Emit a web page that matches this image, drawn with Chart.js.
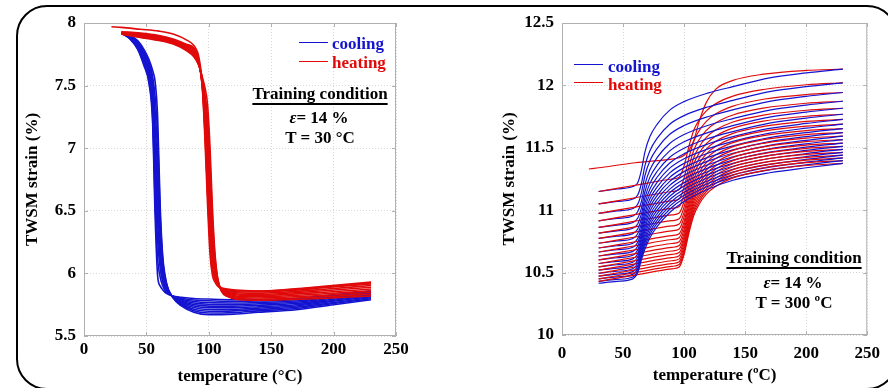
<!DOCTYPE html>
<html>
<head>
<meta charset="utf-8">
<script src="https://cdn.jsdelivr.net/npm/chart.js@4.4.0/dist/chart.umd.min.js"></script>
<style>
  html, body { margin: 0; padding: 0; background: #fff; overflow: hidden; }
  #stage { position: relative; width: 888px; height: 388px; overflow: hidden; }
  #frame { position: absolute; left: 16px; top: 5px; width: 878px; height: 381px; border: 2px solid #000; border-radius: 31px; }
  canvas { position: absolute; top: 0; }
  #left { left: 0; }
  #right { left: 444px; }
  .note { position: absolute; font: bold 17px "Liberation Serif", "Times New Roman", serif; line-height: 20px; white-space: nowrap; color: #000; }
  .mid { width: 200px; text-align: center; }
  .ul { text-decoration: underline; text-decoration-thickness: 2px; text-underline-offset: 4px; }
  .key { position: absolute; width: 29px; height: 0; border-top: 1.4px solid; }
</style>
</head>
<body>
<div id="stage">
  <div id="frame"></div>
  <canvas id="left" width="444" height="388"></canvas>
  <canvas id="right" width="444" height="388"></canvas>

  <div class="key" style="left:299px; top:42px; border-color:#1414d0;"></div>
  <div class="note" style="left:332px; top:34px; color:#1414d0;">cooling</div>
  <div class="key" style="left:299px; top:61px; border-color:#e00a0a;"></div>
  <div class="note" style="left:332px; top:53px; color:#e00a0a;">heating</div>
  <div class="note mid" style="left:220px; top:84px;"><span class="ul">Training condition</span></div>
  <div class="note mid" style="left:219px; top:108px;"><i>ε</i>= 14 %</div>
  <div class="note mid" style="left:220px; top:128px;">T = 30 °C</div>

  <div class="key" style="left:574px; top:64px; border-color:#1414d0;"></div>
  <div class="note" style="left:608px; top:57px; color:#1414d0;">cooling</div>
  <div class="key" style="left:574px; top:82px; border-color:#e00a0a;"></div>
  <div class="note" style="left:608px; top:75px; color:#e00a0a;">heating</div>
  <div class="note mid" style="left:694px; top:248px;"><span class="ul">Training condition</span></div>
  <div class="note mid" style="left:693px; top:273px;"><i>ε</i>= 14 %</div>
  <div class="note mid" style="left:694px; top:293px;">T = 300 ºC</div>
</div>
<script>
// axis ticks
const xTicks = [0, 50, 100, 150, 200, 250];
const leftYTicks = [5.5, 6, 6.5, 7, 7.5, 8];
const rightYTicks = [10, 10.5, 11, 11.5, 12, 12.5];

// left panel (training at 30 C): temperatures of the sampled points
const leftCoolT = [230, 200, 170, 140, 120, 100, 88, 78, 71, 66, 63, 61, 59, 57, 55, 52, 48, 43, 37, 30];
const leftHeatT = [22, 30, 45, 60, 72, 82, 88, 92, 95, 97, 99, 101, 103, 105, 107, 110, 115, 125, 140, 160, 190, 230];

// strain (%) on cooling, one row per cycle
const leftCooling = [
  [5.86, 5.83, 5.80, 5.79, 5.79, 5.795, 5.80, 5.81, 5.82, 5.84, 5.87, 5.90, 5.98, 6.45, 7.20, 7.52, 7.66, 7.79, 7.87, 7.92],
  [5.852, 5.821, 5.79, 5.779, 5.777, 5.781, 5.788, 5.802, 5.819, 5.85, 5.901, 5.972, 6.121, 6.57, 7.247, 7.541, 7.674, 7.798, 7.873, 7.92],
  [5.844, 5.812, 5.78, 5.768, 5.764, 5.767, 5.776, 5.794, 5.818, 5.86, 5.932, 6.044, 6.262, 6.69, 7.293, 7.562, 7.689, 7.806, 7.877, 7.92],
  [5.837, 5.803, 5.77, 5.757, 5.752, 5.753, 5.763, 5.787, 5.817, 5.87, 5.963, 6.117, 6.403, 6.81, 7.34, 7.583, 7.703, 7.813, 7.88, 7.92],
  [5.829, 5.794, 5.76, 5.746, 5.739, 5.739, 5.751, 5.779, 5.816, 5.88, 5.994, 6.189, 6.544, 6.93, 7.387, 7.604, 7.718, 7.821, 7.883, 7.92],
  [5.821, 5.786, 5.75, 5.734, 5.726, 5.726, 5.739, 5.771, 5.814, 5.89, 6.026, 6.261, 6.686, 7.05, 7.433, 7.626, 7.732, 7.829, 7.887, 7.92],
  [5.813, 5.777, 5.74, 5.723, 5.713, 5.712, 5.727, 5.763, 5.813, 5.90, 6.057, 6.333, 6.827, 7.17, 7.48, 7.647, 7.747, 7.837, 7.89, 7.92],
  [5.806, 5.768, 5.73, 5.712, 5.701, 5.698, 5.714, 5.756, 5.812, 5.91, 6.088, 6.406, 6.968, 7.29, 7.527, 7.668, 7.761, 7.844, 7.893, 7.92],
  [5.798, 5.759, 5.72, 5.701, 5.688, 5.684, 5.702, 5.748, 5.811, 5.92, 6.119, 6.478, 7.109, 7.41, 7.573, 7.689, 7.776, 7.852, 7.897, 7.92],
  [5.79, 5.75, 5.71, 5.69, 5.675, 5.67, 5.69, 5.74, 5.81, 5.93, 6.15, 6.55, 7.25, 7.53, 7.62, 7.71, 7.79, 7.86, 7.90, 7.92]
];

// strain (%) on heating, one row per cycle (first cycle starts at 22 C)
const leftHeating = [
  [7.97, 7.965, 7.95, 7.935, 7.91, 7.865, 7.82, 7.73, 7.50, 7.15, 6.65, 6.25, 6.02, 5.95, 5.91, 5.885, 5.875, 5.865, 5.86, 5.865, 5.89, 5.92],
  [null, 7.93, 7.92, 7.90, 7.87, 7.83, 7.80, 7.70, 7.45, 7.05, 6.55, 6.15, 5.98, 5.93, 5.90, 5.88, 5.87, 5.86, 5.86, 5.87, 5.895, 5.93],
  [null, 7.928, 7.916, 7.895, 7.865, 7.824, 7.791, 7.695, 7.464, 7.104, 6.65, 6.256, 6.045, 5.958, 5.909, 5.878, 5.863, 5.851, 5.851, 5.86, 5.883, 5.916],
  [null, 7.925, 7.911, 7.89, 7.86, 7.818, 7.783, 7.69, 7.478, 7.158, 6.75, 6.363, 6.11, 5.985, 5.918, 5.875, 5.856, 5.843, 5.841, 5.85, 5.871, 5.903],
  [null, 7.923, 7.907, 7.885, 7.855, 7.811, 7.774, 7.685, 7.491, 7.211, 6.85, 6.469, 6.175, 6.013, 5.926, 5.873, 5.849, 5.834, 5.832, 5.84, 5.859, 5.889],
  [null, 7.92, 7.903, 7.88, 7.85, 7.805, 7.765, 7.68, 7.505, 7.265, 6.95, 6.575, 6.24, 6.04, 5.935, 5.87, 5.843, 5.825, 5.823, 5.83, 5.848, 5.875],
  [null, 7.918, 7.898, 7.875, 7.845, 7.799, 7.756, 7.675, 7.519, 7.319, 7.05, 6.681, 6.305, 6.068, 5.944, 5.868, 5.836, 5.816, 5.813, 5.82, 5.836, 5.861],
  [null, 7.915, 7.894, 7.87, 7.84, 7.793, 7.748, 7.67, 7.533, 7.373, 7.15, 6.788, 6.37, 6.095, 5.953, 5.865, 5.829, 5.808, 5.804, 5.81, 5.824, 5.848],
  [null, 7.913, 7.889, 7.865, 7.835, 7.786, 7.739, 7.665, 7.546, 7.426, 7.25, 6.894, 6.435, 6.123, 5.961, 5.863, 5.822, 5.799, 5.794, 5.80, 5.812, 5.834],
  [null, 7.91, 7.885, 7.86, 7.83, 7.78, 7.73, 7.66, 7.56, 7.48, 7.35, 7.0, 6.50, 6.15, 5.97, 5.86, 5.815, 5.79, 5.785, 5.79, 5.80, 5.82]
];

// right panel (training at 300 C)
const rightHeatT = [22, 30, 60, 90, 96, 100, 104, 108, 112, 118, 126, 140, 165, 200, 230];
const rightCoolT = [230, 200, 170, 140, 120, 100, 88, 78, 72, 68, 65, 62, 58, 45, 30];

const rightHeating = [
  [11.33, 11.34, 11.38, 11.41, 11.42, 11.44, 11.48, 11.56, 11.70, 11.86, 11.97, 12.04, 12.09, 12.12, 12.13],
  [null, 11.15, 11.20, 11.25, 11.265, 11.356, 11.514, 11.643, 11.718, 11.794, 11.854, 11.914, 11.967, 12.005, 12.02],
  [null, 11.05, 11.10, 11.15, 11.165, 11.258, 11.422, 11.554, 11.632, 11.71, 11.772, 11.834, 11.889, 11.927, 11.943],
  [null, 10.975, 11.025, 11.075, 11.09, 11.184, 11.348, 11.482, 11.56, 11.638, 11.701, 11.763, 11.818, 11.857, 11.873],
  [null, 10.915, 10.965, 11.015, 11.03, 11.124, 11.29, 11.424, 11.502, 11.581, 11.644, 11.707, 11.762, 11.801, 11.817],
  [null, 10.862, 10.912, 10.962, 10.977, 11.072, 11.238, 11.373, 11.452, 11.531, 11.595, 11.658, 11.714, 11.753, 11.769],
  [null, 10.816, 10.866, 10.916, 10.931, 11.027, 11.194, 11.329, 11.409, 11.488, 11.552, 11.616, 11.671, 11.711, 11.727],
  [null, 10.774, 10.824, 10.874, 10.889, 10.985, 11.153, 11.289, 11.369, 11.449, 11.513, 11.577, 11.633, 11.673, 11.689],
  [null, 10.735, 10.785, 10.835, 10.85, 10.946, 11.115, 11.252, 11.332, 11.413, 11.477, 11.541, 11.598, 11.638, 11.654],
  [null, 10.697, 10.747, 10.797, 10.812, 10.909, 11.079, 11.217, 11.298, 11.379, 11.444, 11.509, 11.565, 11.606, 11.622],
  [null, 10.665, 10.715, 10.765, 10.78, 10.878, 11.048, 11.187, 11.268, 11.349, 11.414, 11.479, 11.536, 11.577, 11.593],
  [null, 10.633, 10.683, 10.733, 10.748, 10.846, 11.018, 11.157, 11.238, 11.32, 11.385, 11.451, 11.508, 11.549, 11.565],
  [null, 10.602, 10.652, 10.702, 10.717, 10.816, 10.988, 11.128, 11.21, 11.292, 11.357, 11.423, 11.481, 11.522, 11.538],
  [null, 10.573, 10.623, 10.673, 10.688, 10.787, 10.96, 11.10, 11.182, 11.265, 11.331, 11.397, 11.454, 11.496, 11.512],
  [null, 10.546, 10.596, 10.646, 10.661, 10.76, 10.934, 11.075, 11.157, 11.24, 11.306, 11.372, 11.43, 11.471, 11.488],
  [null, 10.52, 10.57, 10.62, 10.635, 10.734, 10.909, 11.05, 11.132, 11.215, 11.282, 11.348, 11.406, 11.447, 11.464],
  [null, 10.495, 10.545, 10.595, 10.61, 10.71, 10.884, 11.026, 11.109, 11.192, 11.258, 11.325, 11.383, 11.424, 11.441],
  [null, 10.472, 10.522, 10.572, 10.587, 10.687, 10.862, 11.003, 11.086, 11.169, 11.236, 11.303, 11.361, 11.402, 11.419],
  [null, 10.45, 10.50, 10.55, 10.565, 10.665, 10.84, 10.982, 11.065, 11.148, 11.215, 11.281, 11.34, 11.381, 11.398],
  [null, 10.43, 10.48, 10.53, 10.545, 10.645, 10.819, 10.96, 11.043, 11.126, 11.192, 11.259, 11.317, 11.358, 11.375]
];

const rightCooling = [
  [12.13, 12.10, 12.06, 11.99, 11.94, 11.87, 11.80, 11.69, 11.59, 11.47, 11.32, 11.22, 11.19, 11.17, 11.15],
  [12.02, 11.99, 11.95, 11.88, 11.829, 11.758, 11.687, 11.577, 11.477, 11.359, 11.212, 11.121, 11.09, 11.07, 11.05],
  [11.943, 11.912, 11.872, 11.804, 11.751, 11.678, 11.606, 11.496, 11.397, 11.28, 11.137, 11.047, 11.014, 10.994, 10.975],
  [11.873, 11.842, 11.802, 11.734, 11.681, 11.606, 11.533, 11.423, 11.324, 11.209, 11.069, 10.987, 10.954, 10.934, 10.915],
  [11.817, 11.786, 11.746, 11.678, 11.624, 11.548, 11.473, 11.363, 11.265, 11.152, 11.014, 10.935, 10.901, 10.881, 10.862],
  [11.769, 11.738, 11.698, 11.63, 11.575, 11.497, 11.422, 11.312, 11.215, 11.102, 10.968, 10.89, 10.855, 10.835, 10.816],
  [11.727, 11.695, 11.655, 11.589, 11.532, 11.453, 11.376, 11.266, 11.17, 11.059, 10.928, 10.849, 10.812, 10.792, 10.774],
  [11.689, 11.657, 11.617, 11.551, 11.493, 11.412, 11.335, 11.225, 11.129, 11.02, 10.892, 10.811, 10.773, 10.753, 10.735],
  [11.654, 11.622, 11.582, 11.516, 11.458, 11.375, 11.297, 11.187, 11.091, 10.983, 10.859, 10.773, 10.735, 10.715, 10.697],
  [11.622, 11.59, 11.55, 11.484, 11.425, 11.341, 11.261, 11.151, 11.056, 10.95, 10.829, 10.742, 10.703, 10.683, 10.665],
  [11.593, 11.56, 11.52, 11.456, 11.395, 11.309, 11.229, 11.119, 11.024, 10.92, 10.801, 10.711, 10.67, 10.65, 10.633],
  [11.565, 11.532, 11.492, 11.428, 11.366, 11.279, 11.197, 11.087, 10.993, 10.891, 10.775, 10.681, 10.639, 10.619, 10.602],
  [11.538, 11.505, 11.465, 11.401, 11.339, 11.25, 11.167, 11.057, 10.963, 10.862, 10.75, 10.652, 10.61, 10.59, 10.573],
  [11.512, 11.479, 11.439, 11.375, 11.312, 11.221, 11.138, 11.028, 10.934, 10.835, 10.726, 10.626, 10.583, 10.563, 10.546],
  [11.488, 11.454, 11.414, 11.352, 11.287, 11.195, 11.11, 11.0, 10.907, 10.81, 10.704, 10.601, 10.556, 10.536, 10.52],
  [11.464, 11.43, 11.39, 11.328, 11.262, 11.168, 11.083, 10.973, 10.881, 10.784, 10.682, 10.577, 10.531, 10.511, 10.495],
  [11.441, 11.407, 11.367, 11.305, 11.238, 11.143, 11.056, 10.946, 10.855, 10.76, 10.66, 10.555, 10.508, 10.488, 10.472],
  [11.419, 11.385, 11.345, 11.283, 11.216, 11.119, 11.031, 10.921, 10.83, 10.737, 10.64, 10.533, 10.486, 10.466, 10.45],
  [11.398, 11.363, 11.323, 11.263, 11.194, 11.095, 11.006, 10.896, 10.806, 10.714, 10.621, 10.514, 10.465, 10.445, 10.43],
  [11.375, 11.34, 11.30, 11.24, 11.17, 11.07, 10.98, 10.87, 10.78, 10.69, 10.60, 10.50, 10.45, 10.43, 10.415]
];

const BLUE = '#1414d0';
const RED = '#e00a0a';
const tickFont = { family: '"Liberation Serif", "Times New Roman", serif', size: 17, weight: 'bold' };

function curve(temps, vals) {
  const pts = [];
  temps.forEach((t, i) => {
    if (vals[i] !== null) pts.push({ x: t, y: vals[i] });
  });
  return pts.sort((a, b) => a.x - b.x);
}

function line(data, color, width, order) {
  return {
    data, borderColor: color, borderWidth: width, order,
    showLine: true, pointRadius: 0, fill: false,
    cubicInterpolationMode: 'monotone'
  };
}

// plot box and inward tick marks
const boxPlugin = {
  id: 'box',
  beforeDatasetsDraw(chart) {
    const { ctx, chartArea: a, scales: { x, y } } = chart;
    ctx.save();
    ctx.strokeStyle = '#b0b0b0';
    ctx.lineWidth = 1;
    ctx.strokeRect(a.left + 0.5, a.top + 0.5, a.width - 1, a.height - 1);
    ctx.beginPath();
    x.ticks.forEach(t => {
      const px = Math.round(x.getPixelForValue(t.value)) + 0.5;
      ctx.moveTo(px, a.bottom); ctx.lineTo(px, a.bottom - 4);
      ctx.moveTo(px, a.top); ctx.lineTo(px, a.top + 4);
    });
    y.ticks.forEach(t => {
      const py = Math.round(y.getPixelForValue(t.value)) + 0.5;
      ctx.moveTo(a.left, py); ctx.lineTo(a.left + 4, py);
      ctx.moveTo(a.right, py); ctx.lineTo(a.right - 4, py);
    });
    ctx.stroke();
    ctx.restore();
  }
};

function makeChart(id, o) {
  new Chart(document.getElementById(id), {
    type: 'scatter',
    data: { datasets: o.datasets },
    options: {
      responsive: false,
      animation: false,
      devicePixelRatio: 1,
      layout: { padding: o.padding },
      plugins: { legend: { display: false }, tooltip: { enabled: false } },
      scales: {
        x: {
          type: 'linear', min: 0, max: 250,
          afterBuildTicks: s => { s.ticks = xTicks.map(v => ({ value: v })); },
          afterFit: s => { s.height = o.xHeight; },
          grid: { color: '#d8d8d8', drawTicks: false },
          border: { display: false, dash: [1, 2] },
          ticks: { padding: o.xPad, color: '#000', font: tickFont, maxRotation: 0, callback: v => String(v) },
          title: { display: true, text: o.xTitle, color: '#000', font: tickFont, padding: { top: 0, bottom: o.xTitlePad } }
        },
        y: {
          type: 'linear', min: o.yTicks[0], max: o.yTicks[o.yTicks.length - 1],
          afterBuildTicks: s => { s.ticks = o.yTicks.map(v => ({ value: v })); },
          afterFit: s => { s.width = o.yWidth; },
          grid: { color: '#d8d8d8', drawTicks: false },
          border: { display: false, dash: [1, 2] },
          ticks: { padding: 8, color: '#000', font: tickFont, callback: v => String(v) },
          title: { display: true, text: 'TWSM strain (%)', color: '#000', font: tickFont, padding: { top: o.yTitlePad, bottom: 0 } }
        }
      }
    },
    plugins: [boxPlugin]
  });
}

// left panel: all cooling curves under the heating band
const leftSets = [];
leftCooling.forEach(v => leftSets.push(line(curve(leftCoolT, v), BLUE, 1.6, 1)));
leftHeating.forEach(v => leftSets.push(line(curve(leftHeatT, v), RED, 1.6, 0)));

makeChart('left', {
  datasets: leftSets,
  padding: { left: 4, right: 48, top: 23, bottom: 0 },
  yWidth: 80, xHeight: 52, xPad: 3, xTitlePad: 1, yTitlePad: 18,
  yTicks: leftYTicks, xTitle: 'temperature (°C)'
});

// right panel: cycles in time order, later cycles drawn on top
const rightSets = [];
rightHeating.forEach((v, i) => {
  rightSets.push(line(curve(rightHeatT, v), RED, 1.2, -2 * i));
  rightSets.push(line(curve(rightCoolT, rightCooling[i]), BLUE, 1.2, -2 * i - 1));
});

makeChart('right', {
  datasets: rightSets,
  padding: { left: 4, right: 12, top: 23, bottom: 0 },
  yWidth: 114, xHeight: 53, xPad: 8, xTitlePad: 2, yTitlePad: 51,
  yTicks: rightYTicks, xTitle: 'temperature (ºC)'
});
</script>
</body>
</html>
